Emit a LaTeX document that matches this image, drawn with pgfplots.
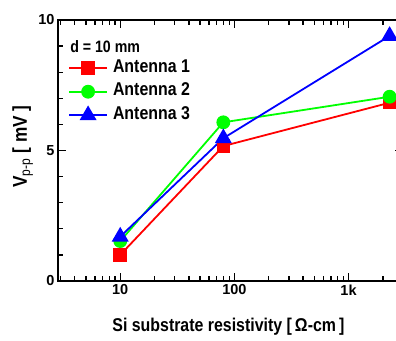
\documentclass[border=0pt]{standalone}
\usepackage{fontspec}
\setmainfont{Liberation Sans}
\newfontfamily\condensed{Liberation Sans}[FakeStretch=0.86]
\usepackage{pgfplots}
\pgfplotsset{compat=1.18}
\definecolor{cred}{RGB}{255,0,0}
\definecolor{cgreen}{RGB}{0,255,0}
\definecolor{cblue}{RGB}{0,0,255}
\begin{document}
\begin{tikzpicture}
\begin{axis}[
  scale only axis, width=345pt, height=261pt,
  xmode=log, xmin=2.85, xmax=3000, ymin=0, ymax=10,
  xtick={10,100,1000}, xticklabels={10,100,1k},
  minor xtick={3,4,5,6,7,8,9,20,30,40,50,60,70,80,90,200,300,400,500,600,700,800,900,2000,3000},
  ytick={0,5,10}, minor ytick={1,2,3,4,6,7,8,9},
  tick align=inside, major tick length=8pt, minor tick length=5pt,
  axis line style={line width=1.8pt},
  every tick/.style={black, line width=1.3pt},
  every tick label/.append style={font=\fontsize{14.5}{16}\selectfont\bfseries},
  /pgf/number format/assume math mode=true,
  xlabel={Si substrate resistivity [\,Ω-cm\,]},
  ylabel={V\textsubscript{\mdseries p-p} [ mV ]},
  xlabel style={font=\condensed\fontsize{18.5}{20}\selectfont\bfseries, at={(axis description cs:0.494,-0.195)}, anchor=base},
  ylabel style={font=\condensed\fontsize{20}{22}\selectfont\bfseries, at={(axis description cs:-0.0899,0.515)}, anchor=base},
  legend style={draw=none, fill=none, inner sep=0pt, at={(axis description cs:0.029,0.861)}, anchor=north west,
    font=\condensed\fontsize{18.5}{20}\selectfont\bfseries, row sep=0pt, column sep=5pt,
    nodes={inner xsep=0pt, inner ysep=4.25pt, text height=11.5pt, text depth=3.5pt}},
  legend cell align=left,
  legend image code/.code={\draw[#1, mark repeat=2, mark phase=2] plot coordinates {(0pt,0pt)(19pt,0pt)(38pt,0pt)};},
]
\addplot[cred, line width=1.8pt, mark=square*, mark size=5.85pt, mark options={solid}]
  coordinates {(10,1.0) (80,5.17) (2290,6.83)};
\addlegendentry{Antenna 1}
\addplot[cgreen, line width=1.8pt, mark=*, mark size=6pt]
  coordinates {(10,1.53) (80,6.08) (2290,7.06)};
\addlegendentry{Antenna 2}
\addplot[cblue, line width=1.8pt, mark=triangle*, mark size=8pt]
  coordinates {(10,1.70) (80,5.47) (2290,9.39)};
\addlegendentry{Antenna 3}
\node[anchor=west, font=\condensed\fontsize{16.5}{18}\selectfont\bfseries, inner sep=0pt] at (axis description cs:0.035,0.897) {d = 10 mm};
\end{axis}
\pgfresetboundingbox
\useasboundingbox (-58pt,-59pt) rectangle (338pt,281pt);
\end{tikzpicture}
\end{document}
